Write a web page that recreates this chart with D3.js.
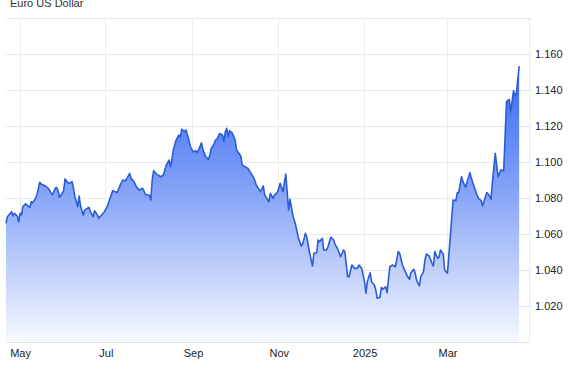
<!DOCTYPE html>
<html>
<head>
<meta charset="utf-8">
<script src="https://cdn.jsdelivr.net/npm/d3@7"></script>
<style>
  body { margin: 0; background: #fff; }
  text { font-family: Arial, "Liberation Sans", sans-serif; }
</style>
</head>
<body>
<div id="chart"></div>
<script>
// Chart size and layout
const WIDTH = 577;
const HEIGHT = 375;
const PLOT = { left: 6, right: 529, top: 18, bottom: 342 };

const TITLE = "Euro US Dollar";

// Dates and EUR/USD closes
const dates = [
  "2024-04-21","2024-04-22","2024-04-23","2024-04-25","2024-04-26","2024-04-27","2024-04-29","2024-04-30",
  "2024-05-01","2024-05-02","2024-05-03","2024-05-05","2024-05-06","2024-05-08","2024-05-09","2024-05-10",
  "2024-05-12","2024-05-13","2024-05-15","2024-05-16","2024-05-19","2024-05-21","2024-05-24","2024-05-25",
  "2024-05-26","2024-05-27","2024-05-28","2024-05-29","2024-05-31","2024-06-01","2024-06-02","2024-06-04",
  "2024-06-05","2024-06-07","2024-06-08","2024-06-09","2024-06-11","2024-06-12","2024-06-13","2024-06-15",
  "2024-06-16","2024-06-18","2024-06-19","2024-06-20","2024-06-22","2024-06-23","2024-06-25","2024-06-26",
  "2024-06-28","2024-06-30","2024-07-02","2024-07-04","2024-07-06","2024-07-09","2024-07-11","2024-07-13",
  "2024-07-15","2024-07-16","2024-07-18","2024-07-19","2024-07-21","2024-07-23","2024-07-25","2024-07-27",
  "2024-07-28","2024-07-29","2024-07-31","2024-08-01","2024-08-02","2024-08-03","2024-08-04","2024-08-06",
  "2024-08-09","2024-08-11","2024-08-13","2024-08-15","2024-08-16","2024-08-17","2024-08-18","2024-08-20",
  "2024-08-22","2024-08-23","2024-08-24","2024-08-26","2024-08-27","2024-08-29","2024-08-30","2024-09-01",
  "2024-09-03","2024-09-04","2024-09-06","2024-09-07","2024-09-08","2024-09-10","2024-09-12","2024-09-13",
  "2024-09-14","2024-09-16","2024-09-17","2024-09-18","2024-09-20","2024-09-22","2024-09-23","2024-09-24",
  "2024-09-25","2024-09-26","2024-09-27","2024-09-29","2024-10-01","2024-10-02","2024-10-05","2024-10-06",
  "2024-10-08","2024-10-10","2024-10-12","2024-10-14","2024-10-15","2024-10-16","2024-10-18","2024-10-19",
  "2024-10-21","2024-10-22","2024-10-25","2024-10-26","2024-10-28","2024-10-29","2024-10-31","2024-11-02",
  "2024-11-04","2024-11-06","2024-11-08","2024-11-09","2024-11-11","2024-11-13","2024-11-15","2024-11-17",
  "2024-11-18","2024-11-20","2024-11-21","2024-11-23","2024-11-25","2024-11-26","2024-11-28","2024-11-29",
  "2024-11-30","2024-12-02","2024-12-03","2024-12-05","2024-12-06","2024-12-08","2024-12-10","2024-12-11",
  "2024-12-13","2024-12-15","2024-12-17","2024-12-18","2024-12-20","2024-12-21","2024-12-23","2024-12-25",
  "2024-12-27","2024-12-28","2024-12-30","2025-01-01","2025-01-02","2025-01-03","2025-01-05","2025-01-06",
  "2025-01-08","2025-01-09","2025-01-10","2025-01-12","2025-01-13","2025-01-14","2025-01-16","2025-01-17",
  "2025-01-19","2025-01-21","2025-01-23","2025-01-25","2025-01-26","2025-01-28","2025-01-29","2025-01-31",
  "2025-02-02","2025-02-03","2025-02-05","2025-02-06","2025-02-07","2025-02-09","2025-02-10","2025-02-12",
  "2025-02-13","2025-02-14","2025-02-16","2025-02-18","2025-02-19","2025-02-20","2025-02-22","2025-02-23",
  "2025-02-24","2025-02-26","2025-02-27","2025-03-01","2025-03-03","2025-03-05","2025-03-07","2025-03-08",
  "2025-03-09","2025-03-11","2025-03-12","2025-03-14","2025-03-15","2025-03-17","2025-03-18","2025-03-20",
  "2025-03-22","2025-03-23","2025-03-25","2025-03-26","2025-03-28","2025-03-29","2025-03-31","2025-04-01",
  "2025-04-02","2025-04-04","2025-04-05","2025-04-06","2025-04-08","2025-04-10","2025-04-12","2025-04-14",
  "2025-04-15","2025-04-17","2025-04-18","2025-04-19","2025-04-21"
];

const rates = [
  1.0659,1.0696,1.0706,1.0724,1.0700,1.0715,1.0700,1.0668,
  1.0715,1.0706,1.0752,1.0767,1.0761,1.0748,1.0779,1.0774,
  1.0798,1.0817,1.0887,1.0878,1.0867,1.0854,1.0817,1.0835,
  1.0854,1.0859,1.0841,1.0804,1.0826,1.0841,1.0906,1.0885,
  1.0882,1.0891,1.0854,1.0807,1.0752,1.0811,1.0756,1.0706,
  1.0733,1.0743,1.0748,1.0724,1.0696,1.0729,1.0706,1.0687,
  1.0706,1.0724,1.0752,1.0798,1.0841,1.0830,1.0867,1.0900,
  1.0896,1.0909,1.0937,1.0909,1.0891,1.0859,1.0844,1.0854,
  1.0841,1.0821,1.0817,1.0815,1.0789,1.0900,1.0952,1.0933,
  1.0918,1.0928,1.0983,1.1011,1.0974,1.1011,1.1067,1.1122,
  1.1150,1.1137,1.1182,1.1169,1.1178,1.1126,1.1089,1.1057,
  1.1063,1.1052,1.1085,1.1107,1.1071,1.1030,1.1015,1.1039,
  1.1076,1.1100,1.1122,1.1126,1.1159,1.1150,1.1113,1.1169,
  1.1187,1.1141,1.1174,1.1159,1.1122,1.1067,1.1033,1.0983,
  1.0974,1.0965,1.0941,1.0915,1.0896,1.0872,1.0848,1.0835,
  1.0867,1.0817,1.0779,1.0826,1.0798,1.0817,1.0830,1.0882,
  1.0835,1.0933,1.0733,1.0793,1.0706,1.0650,1.0576,1.0533,
  1.0544,1.0604,1.0582,1.0493,1.0422,1.0493,1.0496,1.0567,
  1.0557,1.0576,1.0511,1.0511,1.0529,1.0582,1.0567,1.0544,
  1.0515,1.0474,1.0511,1.0502,1.0363,1.0363,1.0428,1.0409,
  1.0409,1.0428,1.0409,1.0335,1.0271,1.0335,1.0385,1.0335,
  1.0317,1.0289,1.0243,1.0248,1.0304,1.0293,1.0307,1.0274,
  1.0418,1.0428,1.0418,1.0502,1.0493,1.0428,1.0409,1.0372,
  1.0348,1.0385,1.0404,1.0385,1.0344,1.0311,1.0363,1.0391,
  1.0456,1.0489,1.0478,1.0437,1.0422,1.0502,1.0465,1.0471,
  1.0511,1.0489,1.0400,1.0382,1.0585,1.0789,1.0785,1.0830,
  1.0830,1.0918,1.0891,1.0859,1.0891,1.0941,1.0909,1.0863,
  1.0817,1.0798,1.0785,1.0756,1.0807,1.0830,1.0811,1.0793,
  1.0891,1.1048,1.0983,1.0918,1.0956,1.0952,1.1335,1.1348,
  1.1279,1.1396,1.1367,1.1382,1.1533
];

// Axis ticks
const xDomain = ["2024-04-21", "2025-04-28"];
const xTicks = ["2024-05-01", "2024-07-01", "2024-09-01", "2024-11-01", "2025-01-01", "2025-03-01"];
const xTickLabels = ["May", "Jul", "Sep", "Nov", "2025", "Mar"];
const yDomain = [1.0, 1.18];
const yTicks = [1.02, 1.04, 1.06, 1.08, 1.10, 1.12, 1.14, 1.16];

const parse = d3.timeParse("%Y-%m-%d");
const data = dates.map((d, i) => ({ date: parse(d), value: rates[i] }));

const svg = d3.select("#chart").append("svg")
    .attr("width", WIDTH)
    .attr("height", HEIGHT);

const x = d3.scaleTime()
    .domain(xDomain.map(parse))
    .range([PLOT.left, PLOT.right]);

const y = d3.scaleLinear()
    .domain(yDomain)
    .range([PLOT.bottom, PLOT.top]);

// Gradient for the area fill
const grad = svg.append("defs").append("linearGradient")
    .attr("id", "areaFill")
    .attr("gradientUnits", "userSpaceOnUse")
    .attr("x1", 0).attr("x2", 0)
    .attr("y1", y(1.16)).attr("y2", PLOT.bottom);
grad.append("stop").attr("offset", "0%").attr("stop-color", "#2f62f2");
grad.append("stop").attr("offset", "45%").attr("stop-color", "#7f9ff7");
grad.append("stop").attr("offset", "100%").attr("stop-color", "#f7f9ff");

// Grid lines
svg.append("g")
    .attr("class", "y-grid")
    .selectAll("line")
    .data(yTicks.concat([yDomain[1]]))
    .join("line")
    .attr("x1", PLOT.left)
    .attr("x2", PLOT.right + 3)
    .attr("y1", d => y(d))
    .attr("y2", d => y(d))
    .attr("stroke", "#e8e8e8")
    .attr("stroke-width", 1)
    .attr("shape-rendering", "crispEdges");

svg.append("g")
    .attr("class", "x-grid")
    .selectAll("line")
    .data(xTicks.map(parse).concat([x.domain()[1]]))
    .join("line")
    .attr("x1", d => x(d))
    .attr("x2", d => x(d))
    .attr("y1", PLOT.top)
    .attr("y2", PLOT.bottom)
    .attr("stroke", "#ececec")
    .attr("stroke-width", 1)
    .attr("shape-rendering", "crispEdges");

// Area and line
const area = d3.area()
    .x(d => x(d.date))
    .y0(PLOT.bottom)
    .y1(d => y(d.value));

const line = d3.line()
    .x(d => x(d.date))
    .y(d => y(d.value));

svg.append("path")
    .datum(data)
    .attr("fill", "url(#areaFill)")
    .attr("d", area);

svg.append("path")
    .datum(data)
    .attr("fill", "none")
    .attr("stroke", "#2b5cd8")
    .attr("stroke-width", 1.6)
    .attr("stroke-linejoin", "round")
    .attr("d", line);

// Bottom axis line
svg.append("line")
    .attr("x1", PLOT.left).attr("x2", PLOT.right)
    .attr("y1", PLOT.bottom).attr("y2", PLOT.bottom)
    .attr("stroke", "#e2e2e2")
    .attr("shape-rendering", "crispEdges");

// X axis labels
const xAxis = d3.axisBottom(x)
    .tickValues(xTicks.map(parse))
    .tickFormat((d, i) => xTickLabels[i])
    .tickSize(0)
    .tickPadding(7);

svg.append("g")
    .attr("transform", `translate(0,${PLOT.bottom})`)
    .call(xAxis)
    .call(g => g.select(".domain").remove())
    .call(g => g.selectAll("text")
        .attr("font-size", 11)
        .attr("fill", "#222")
        .style("font-family", "Arial, 'Liberation Sans', sans-serif"));

// Y axis labels on the right
const yAxis = d3.axisRight(y)
    .tickValues(yTicks)
    .tickFormat(d3.format(".3f"))
    .tickSize(0)
    .tickPadding(6);

svg.append("g")
    .attr("transform", `translate(${PLOT.right},0)`)
    .call(yAxis)
    .call(g => g.select(".domain").remove())
    .call(g => g.selectAll("text")
        .attr("font-size", 11)
        .attr("fill", "#222")
        .style("font-family", "Arial, 'Liberation Sans', sans-serif"));

// Title
svg.append("text")
    .attr("x", 10)
    .attr("y", 7)
    .attr("font-size", 11)
    .attr("fill", "#333")
    .text(TITLE);

// Source credit, mostly below the visible area
svg.append("text")
    .attr("x", 572)
    .attr("y", 383)
    .attr("text-anchor", "end")
    .attr("font-size", 11)
    .attr("fill", "#777")
    .text("source: tradingeconomics.com");
</script>
</body>
</html>
